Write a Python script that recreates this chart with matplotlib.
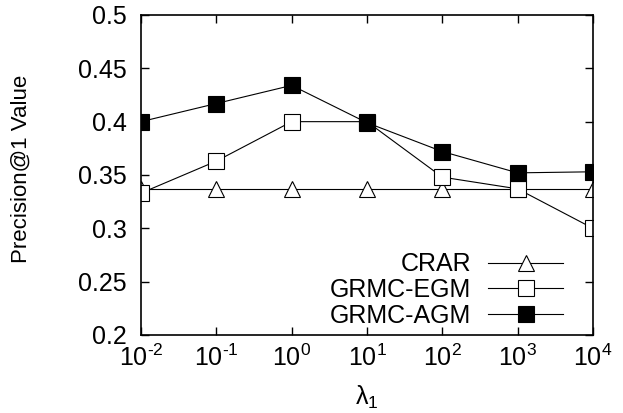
import matplotlib
matplotlib.use("Agg")
import matplotlib.pyplot as plt
from matplotlib.ticker import FixedLocator, FixedFormatter, NullLocator

plt.rcParams["font.family"] = ["Liberation Sans", "DejaVu Sans"]
plt.rcParams["mathtext.fontset"] = "custom"
plt.rcParams["mathtext.rm"] = "Liberation Sans"
plt.rcParams["mathtext.it"] = "Liberation Sans:italic"
plt.rcParams["mathtext.sf"] = "Liberation Sans"

# regularisation weight lambda_1 and Precision@1 per method
lambdas = [1e-2, 1e-1, 1e0, 1e1, 1e2, 1e3, 1e4]
crar = [0.337, 0.337, 0.337, 0.337, 0.337, 0.337, 0.337]
grmc_egm = [0.333, 0.363, 0.400, 0.400, 0.348, 0.337, 0.300]
grmc_agm = [0.400, 0.417, 0.434, 0.399, 0.372, 0.352, 0.353]

yticks = [0.2, 0.25, 0.3, 0.35, 0.4, 0.45, 0.5]
ytick_labels = ["0.2", "0.25", "0.3", "0.35", "0.4", "0.45", "0.5"]
xtick_labels = [r"$10^{\text{-2}}$", r"$10^{\text{-1}}$", r"$10^{\text{0}}$",
                r"$10^{\text{1}}$", r"$10^{\text{2}}$", r"$10^{\text{3}}$",
                r"$10^{\text{4}}$"]

fig = plt.figure(figsize=(6.23, 4.13), dpi=100)
ax = fig.add_axes([0.2263, 0.1889, 0.7255, 0.7748])

lw = 0.8
ax.plot(lambdas, crar, color="black", lw=lw, marker="^", ms=11,
        mfc="white", mec="black", mew=0.8, label="CRAR")
ax.plot(lambdas, grmc_egm, color="black", lw=lw, marker="s", ms=11,
        mfc="white", mec="black", mew=0.8, label="GRMC-EGM")
ax.plot(lambdas, grmc_agm, color="black", lw=lw, marker="s", ms=11,
        mfc="black", mec="black", mew=0.8, label="GRMC-AGM")

ax.set_xscale("log")
ax.set_xlim(1e-2, 1e4)
ax.set_ylim(0.2, 0.5)
ax.xaxis.set_major_locator(FixedLocator(lambdas))
ax.xaxis.set_major_formatter(FixedFormatter(xtick_labels))
ax.xaxis.set_minor_locator(NullLocator())
ax.yaxis.set_major_locator(FixedLocator(yticks))
ax.yaxis.set_major_formatter(FixedFormatter(ytick_labels))

ax.tick_params(axis="both", which="major", direction="in", length=6,
               width=1.0, labelsize=18, top=True, right=True)
ax.tick_params(axis="x", pad=7)
ax.tick_params(axis="y", pad=10)
for sp in ax.spines.values():
    sp.set_linewidth(1.2)

ax.set_ylabel("Precision@1 Value", fontsize=16)
ax.yaxis.set_label_coords(-0.241, 0.52)
ax.set_xlabel(r"$\mathrm{\lambda}_1$", fontsize=18)
ax.xaxis.set_label_coords(0.5, -0.152)

ax.legend(loc="lower right", bbox_to_anchor=(0.934, 0.022), frameon=False,
          markerfirst=False, fontsize=18, handlelength=3.0,
          handletextpad=0.68, labelspacing=0.07, borderpad=0.0,
          borderaxespad=0.0)

fig.savefig("out.png", dpi=100)
